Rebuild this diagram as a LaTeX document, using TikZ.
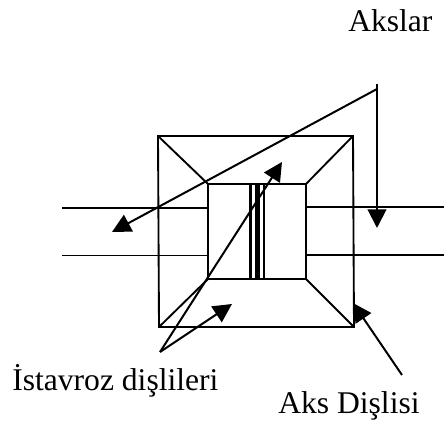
\documentclass[tikz,border=0pt]{standalone}
\usepackage{fontspec}
\setmainfont{Liberation Serif}
\usetikzlibrary{arrows.meta}
\tikzset{x=0.75pt,y=-0.75pt,
  ln/.style={line width=1.4pt,black},
  thn/.style={line width=1.1pt,black},
  ptr/.style={line width=1.5pt,black,-{Triangle[length=14pt,width=14pt]}},
  lbl/.style={font=\fontsize{23.7}{26}\selectfont,inner sep=0pt,anchor=base west}}
\begin{document}
\begin{tikzpicture}
\useasboundingbox (0,0) rectangle (444,424);
\coordinate (oa) at (158,136);\coordinate (ob) at (353,136);\coordinate (oc) at (354,327);\coordinate (od) at (159,327);
\coordinate (ia) at (208,184);\coordinate (ib) at (306,184);\coordinate (ic) at (306,279);\coordinate (id) at (208,279);
\draw[ln] (oa)--(ob)--(oc)--(od)--cycle;
\draw[ln] (ia)--(ib)--(ic)--(id)--cycle;
\draw[ln] (oa)--(ia) (ob)--(ib) (oc)--(ic) (od)--(id);
\draw[thn] (62,208)--(208,208) (62,255.5)--(208,255.5) (306,207)--(444,207) (306,255)--(444,255);
\fill (249,184) rectangle (251.5,279);
\fill (255,184) rectangle (259.5,279);
\fill (263,184) rectangle (265,279);
\coordinate (apex) at (377,89);
\coordinate (top) at (377,84);
\coordinate (sh1) at (377,228);
\coordinate (sh2) at (112,232);
\draw[ptr,-] (top)--(apex);
\draw[ptr] (apex)--(sh1);
\draw[ptr] (apex)--(sh2);
\coordinate (s) at (160,352);
\coordinate (t1) at (282,162);
\coordinate (t2) at (232,304);
\draw[ptr] (s)--(t1);
\draw[ptr] (s)--(t2);
\coordinate (g1) at (402,375);
\coordinate (g2) at (353,303);
\draw[ptr] (g1)--(g2);
\node[lbl] (l1) at (348,32) {Akslar};
\node[lbl] (l2) at (12,391) {İstavroz dişlileri};
\node[lbl] (l3) at (278,414) {Aks Dişlisi};
\end{tikzpicture}
\end{document}
